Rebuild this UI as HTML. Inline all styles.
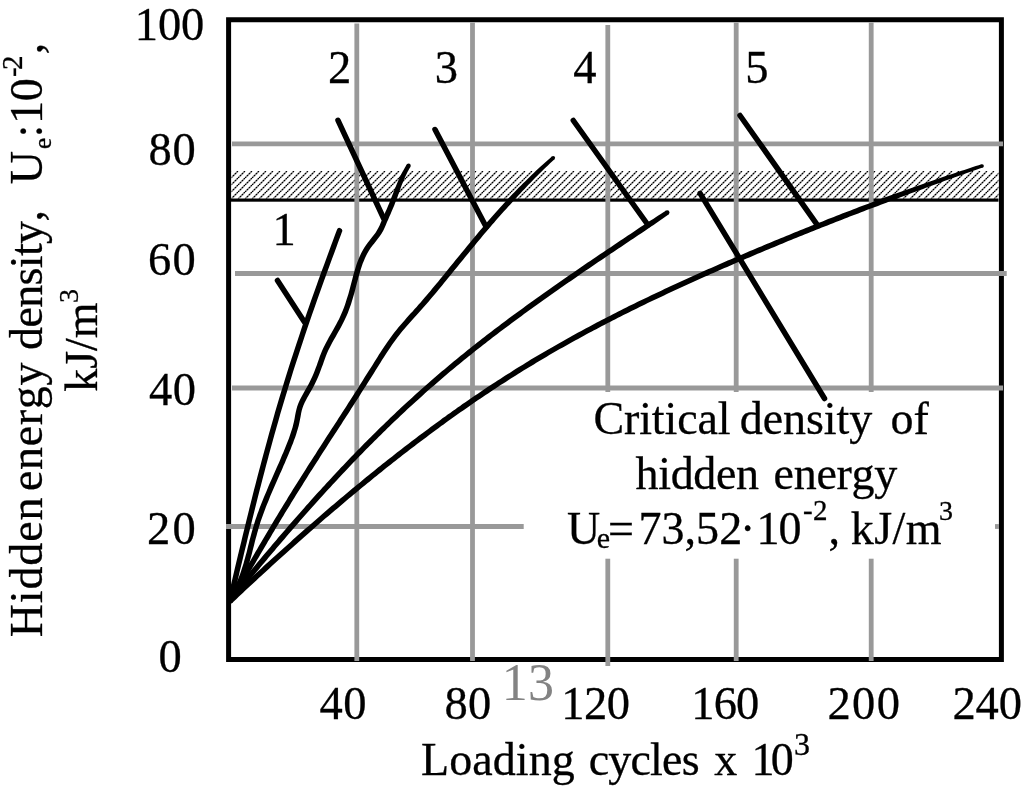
<!DOCTYPE html>
<html><head><meta charset="utf-8"><title>Hidden energy density vs loading cycles</title>
<style>
html,body{margin:0;padding:0;background:#fff;}
body{width:1024px;height:793px;overflow:hidden;}
svg{display:block;}
text{font-family:"Liberation Serif","Times New Roman",serif;fill:#000;stroke:#000;stroke-width:0.3px;font-kerning:none;white-space:pre;}
</style></head><body>
<svg width="1024" height="793" viewBox="0 0 1024 793">
<defs>
<pattern id="hatch" patternUnits="userSpaceOnUse" width="7" height="7" x="238" y="171"><path d="M-1 8 L8 -1 M-1 1 L1 -1 M6 8 L8 6" stroke="#000" stroke-opacity="0.5" stroke-width="1.1" fill="none"/><circle cx="0.5" cy="6.5" r="0.85" fill="#000"/><circle cx="2.5" cy="4.5" r="0.85" fill="#000"/><circle cx="4.5" cy="2.5" r="0.85" fill="#000"/><circle cx="6.5" cy="0.5" r="0.85" fill="#000"/></pattern>
</defs>
<rect x="0" y="0" width="1024" height="793" fill="#fff"/>
<rect x="228.6" y="19.75" width="772.8" height="639.75" fill="none" stroke="#000" stroke-width="5"/>
<rect x="231.5" y="171" width="767" height="27.6" fill="url(#hatch)"/>
<rect x="231" y="198.5" width="767.5" height="3.2" fill="#000"/>
<line x1="232.0" y1="143.8" x2="1003.0" y2="143.8" stroke="#999" stroke-width="4.8"/>
<line x1="235.0" y1="273.5" x2="1006.7" y2="273.5" stroke="#999" stroke-width="4.8"/>
<line x1="232.0" y1="388.0" x2="1003.0" y2="388.0" stroke="#999" stroke-width="4.8"/>
<line x1="226.0" y1="526.5" x2="523.7" y2="526.5" stroke="#999" stroke-width="4.8"/>
<line x1="995.0" y1="526.5" x2="999.0" y2="526.5" stroke="#999" stroke-width="4.8"/>
<line x1="356.8" y1="23.5" x2="356.8" y2="661.0" stroke="#999" stroke-width="4.8"/>
<line x1="472.5" y1="22.5" x2="472.5" y2="661.0" stroke="#999" stroke-width="4.8"/>
<line x1="607.8" y1="25.0" x2="607.8" y2="392.0" stroke="#999" stroke-width="4.8"/>
<line x1="607.8" y1="558.7" x2="607.8" y2="666.0" stroke="#999" stroke-width="4.8"/>
<line x1="736.2" y1="22.5" x2="736.2" y2="392.0" stroke="#999" stroke-width="4.8"/>
<line x1="736.2" y1="558.7" x2="736.2" y2="661.0" stroke="#999" stroke-width="4.8"/>
<line x1="871.2" y1="22.5" x2="871.2" y2="392.0" stroke="#999" stroke-width="4.8"/>
<line x1="871.2" y1="558.7" x2="871.2" y2="661.0" stroke="#999" stroke-width="4.8"/>
<path d="M230.2 600.0 C230.8 597.6 232.5 590.3 233.6 585.5 C234.8 580.7 235.9 575.8 237.0 571.0 C238.2 566.2 239.3 561.4 240.5 556.5 C241.6 551.7 242.8 546.9 244.0 542.1 C245.1 537.3 246.3 532.5 247.5 527.7 C248.6 522.9 249.8 518.1 251.0 513.3 C252.2 508.5 253.4 503.7 254.6 498.9 C255.8 494.1 257.0 489.3 258.3 484.5 C259.5 479.7 260.7 475.0 262.0 470.2 C263.3 465.4 264.5 460.6 265.8 455.9 C267.1 451.1 268.4 446.3 269.7 441.6 C271.0 436.8 272.3 432.1 273.7 427.3 C275.0 422.6 276.4 417.8 277.7 413.1 C279.1 408.3 280.5 403.6 281.9 398.9 C283.3 394.1 284.8 389.4 286.2 384.7 C287.7 380.0 289.1 375.2 290.6 370.5 C292.1 365.8 293.6 361.1 295.2 356.4 C296.7 351.7 298.2 347.0 299.8 342.3 C301.4 337.6 302.9 332.9 304.5 328.2 C306.1 323.6 307.7 318.9 309.3 314.2 C311.0 309.5 312.6 304.9 314.2 300.2 C315.9 295.5 317.5 290.9 319.2 286.2 C320.8 281.6 322.5 276.9 324.2 272.3 C325.9 267.7 327.6 263.0 329.3 258.4 C331.0 253.8 332.7 249.1 334.4 244.5 C336.1 239.9 338.6 233.0 339.5 230.7" fill="none" stroke="#000" stroke-width="5.5" stroke-linecap="round" stroke-linejoin="round"/>
<g fill="#000"><path d="M232.5 601.5 L234.2 598.9 L235.8 596.2 L237.3 593.5 L238.7 590.8 L240.1 588.0 L241.4 585.2 L242.6 582.4 L243.8 579.5 L244.9 576.6 L246.0 573.8 L246.9 570.8 L247.9 567.9 L248.8 565.0 L249.6 562.1 L250.4 559.1 L251.2 556.2 L252.0 553.2 L252.7 550.3 L253.5 547.3 L254.2 544.4 L254.9 541.5 L255.7 538.6 L256.5 535.7 L257.3 532.8 L258.1 529.9 L258.9 527.0 L259.8 524.2 L260.7 521.3 L261.7 518.5 L262.7 515.7 L263.7 512.9 L264.8 510.1 L265.8 507.3 L266.9 504.5 L268.1 501.7 L269.2 498.9 L270.3 496.1 L271.5 493.3 L272.7 490.6 L273.9 487.8 L275.1 485.0 L276.3 482.3 L277.5 479.5 L278.7 476.7 L279.9 474.0 L281.2 471.2 L282.4 468.4 L283.6 465.6 L284.8 462.9 L286.0 460.1 L287.2 457.3 L288.4 454.5 L289.5 451.7 L290.7 448.9 L291.8 446.1 L293.0 443.2 L294.0 440.3 L295.1 437.5 L296.1 434.6 L297.0 431.6 L297.9 428.6 L298.7 425.7 L299.4 422.6 L300.0 419.6 L300.6 416.6 L301.1 413.6 L301.7 410.8 L302.5 408.1 L303.4 405.4 L304.6 402.8 L305.9 400.2 L307.3 397.6 L308.8 395.0 L310.3 392.3 L311.8 389.7 L313.3 387.0 L314.7 384.3 L316.0 381.5 L317.3 378.7 L318.6 375.8 L319.7 373.0 L320.8 370.1 L321.8 367.2 L322.9 364.4 L323.9 361.5 L324.9 358.7 L325.9 355.9 L327.0 353.2 L328.2 350.5 L329.5 347.9 L330.9 345.2 L332.3 342.6 L333.7 340.0 L335.2 337.4 L336.7 334.8 L338.2 332.1 L339.7 329.5 L341.2 326.8 L342.6 324.1 L344.0 321.3 L345.3 318.5 L346.6 315.7 L347.8 312.9 L348.9 310.0 L350.0 307.1 L351.0 304.2 L351.9 301.2 L352.8 298.3 L353.6 295.4 L354.5 292.4 L355.3 289.5 L356.0 286.6 L356.8 283.6 L357.6 280.7 L358.3 277.8 L359.1 274.9 L360.0 272.0 L360.8 269.2 L361.7 266.4 L362.7 263.6 L363.8 260.9 L364.9 258.2 L366.2 255.6 L367.5 253.0 L369.0 250.5 L370.6 248.1 L372.3 245.7 L374.2 243.4 L376.1 241.0 L378.0 238.6 L379.9 236.1 L381.6 233.4 L383.2 230.7 L384.6 227.8 L385.8 225.0 L387.0 222.1 L388.2 219.4 L389.4 216.6 L390.6 213.9 L391.8 211.1 L393.0 208.3 L394.2 205.5 L395.3 202.6 L396.4 199.8 L397.5 196.9 L398.5 194.1 L399.5 191.2 L400.5 188.4 L401.6 185.6 L402.7 182.8 L403.8 180.1 L405.0 177.3 L406.2 174.7 L407.5 172.0 L408.9 169.4 L410.4 166.8 L406.8 164.6 L405.1 167.2 L403.6 169.9 L402.1 172.6 L400.7 175.3 L399.4 178.1 L398.1 180.9 L396.9 183.7 L395.8 186.5 L394.6 189.4 L393.5 192.2 L392.4 195.0 L391.3 197.8 L390.2 200.6 L389.1 203.4 L388.0 206.1 L386.8 208.9 L385.6 211.6 L384.3 214.4 L383.1 217.2 L381.9 220.0 L380.7 222.8 L379.6 225.5 L378.3 228.1 L376.9 230.6 L375.4 232.9 L373.6 235.2 L371.8 237.6 L369.9 239.9 L367.9 242.4 L366.1 244.9 L364.4 247.6 L362.8 250.3 L361.3 253.1 L359.9 255.9 L358.7 258.8 L357.5 261.7 L356.5 264.6 L355.6 267.6 L354.7 270.5 L353.8 273.4 L353.0 276.4 L352.3 279.3 L351.5 282.3 L350.7 285.2 L350.0 288.1 L349.2 291.0 L348.4 293.9 L347.5 296.7 L346.6 299.6 L345.7 302.4 L344.8 305.2 L343.8 308.0 L342.7 310.8 L341.5 313.5 L340.3 316.2 L339.1 318.9 L337.7 321.5 L336.3 324.2 L334.9 326.8 L333.4 329.4 L332.0 332.0 L330.4 334.7 L328.9 337.3 L327.5 340.0 L326.0 342.7 L324.6 345.4 L323.2 348.2 L322.0 351.0 L320.8 353.9 L319.7 356.8 L318.7 359.7 L317.7 362.5 L316.7 365.4 L315.6 368.2 L314.6 371.0 L313.5 373.7 L312.3 376.5 L311.1 379.1 L309.8 381.8 L308.4 384.4 L307.0 387.0 L305.5 389.6 L304.0 392.3 L302.5 394.9 L301.0 397.7 L299.6 400.5 L298.3 403.4 L297.2 406.4 L296.4 409.5 L295.7 412.5 L295.1 415.6 L294.6 418.5 L294.0 421.4 L293.3 424.3 L292.6 427.2 L291.7 430.0 L290.8 432.8 L289.9 435.6 L288.9 438.4 L287.8 441.2 L286.7 444.0 L285.6 446.8 L284.5 449.6 L283.3 452.4 L282.1 455.1 L280.9 457.9 L279.8 460.7 L278.6 463.4 L277.3 466.2 L276.1 469.0 L274.9 471.7 L273.7 474.5 L272.5 477.3 L271.3 480.1 L270.0 482.8 L268.8 485.6 L267.6 488.4 L266.5 491.2 L265.3 494.0 L264.1 496.8 L263.0 499.6 L261.8 502.4 L260.7 505.3 L259.6 508.1 L258.6 511.0 L257.5 513.8 L256.5 516.7 L255.5 519.6 L254.6 522.5 L253.7 525.4 L252.8 528.4 L252.0 531.3 L251.2 534.2 L250.4 537.2 L249.6 540.1 L248.9 543.1 L248.1 546.0 L247.4 548.9 L246.7 551.9 L245.9 554.8 L245.1 557.7 L244.3 560.6 L243.5 563.4 L242.6 566.3 L241.7 569.1 L240.8 571.9 L239.8 574.7 L238.7 577.5 L237.6 580.2 L236.4 583.0 L235.1 585.6 L233.8 588.3 L232.5 590.9 L231.0 593.5 L229.5 596.0 L227.9 598.5Z"/><circle cx="230.2" cy="600.0" r="2.75"/><circle cx="408.6" cy="165.7" r="2.15"/></g>
<g fill="#000"><path d="M232.5 601.4 L234.1 598.8 L235.7 596.3 L237.2 593.7 L238.8 591.1 L240.4 588.5 L241.9 585.9 L243.5 583.3 L245.0 580.7 L246.5 578.1 L248.1 575.5 L249.6 572.9 L251.1 570.3 L252.7 567.6 L254.2 565.0 L255.7 562.4 L257.2 559.8 L258.8 557.2 L260.3 554.6 L261.8 552.0 L263.3 549.4 L264.9 546.8 L266.4 544.2 L267.9 541.6 L269.5 539.0 L271.0 536.4 L272.5 533.8 L274.1 531.2 L275.6 528.6 L277.2 526.0 L278.7 523.4 L280.3 520.8 L281.8 518.3 L283.4 515.7 L284.9 513.1 L286.5 510.5 L288.1 507.9 L289.7 505.4 L291.2 502.8 L292.8 500.2 L294.4 497.7 L296.0 495.1 L297.6 492.5 L299.2 490.0 L300.8 487.4 L302.4 484.9 L304.0 482.3 L305.6 479.8 L307.2 477.2 L308.8 474.6 L310.4 472.1 L312.1 469.6 L313.7 467.0 L315.3 464.5 L316.9 461.9 L318.6 459.4 L320.2 456.8 L321.8 454.3 L323.4 451.8 L325.1 449.2 L326.7 446.7 L328.4 444.1 L330.0 441.6 L331.6 439.1 L333.3 436.5 L334.9 434.0 L336.6 431.5 L338.2 428.9 L339.8 426.4 L341.5 423.9 L343.1 421.3 L344.8 418.8 L346.4 416.2 L348.1 413.7 L349.7 411.2 L351.3 408.6 L353.0 406.1 L354.6 403.5 L356.2 401.0 L357.9 398.4 L359.5 395.9 L361.1 393.3 L362.7 390.8 L364.3 388.2 L366.0 385.7 L367.6 383.1 L369.2 380.6 L370.8 378.0 L372.4 375.5 L374.0 372.9 L375.6 370.3 L377.2 367.8 L378.8 365.2 L380.4 362.7 L382.0 360.1 L383.7 357.6 L385.3 355.1 L386.9 352.5 L388.6 350.0 L390.3 347.5 L391.9 345.1 L393.7 342.6 L395.4 340.2 L397.2 337.8 L399.0 335.5 L400.9 333.1 L402.7 330.8 L404.7 328.5 L406.6 326.3 L408.6 324.0 L410.6 321.8 L412.6 319.5 L414.6 317.3 L416.7 315.0 L418.7 312.8 L420.7 310.5 L422.7 308.3 L424.7 306.0 L426.7 303.7 L428.7 301.4 L430.7 299.1 L432.6 296.8 L434.6 294.5 L436.5 292.2 L438.5 289.8 L440.4 287.5 L442.3 285.2 L444.2 282.8 L446.1 280.5 L448.1 278.1 L450.0 275.8 L451.9 273.5 L453.8 271.1 L455.7 268.8 L457.6 266.4 L459.5 264.1 L461.4 261.7 L463.3 259.4 L465.2 257.0 L467.1 254.7 L469.0 252.4 L470.9 250.0 L472.9 247.7 L474.8 245.4 L476.7 243.0 L478.6 240.7 L480.6 238.4 L482.5 236.1 L484.4 233.8 L486.4 231.5 L488.3 229.2 L490.3 226.9 L492.3 224.6 L494.2 222.4 L496.2 220.1 L498.2 217.8 L500.2 215.6 L502.2 213.3 L504.2 211.1 L506.2 208.9 L508.3 206.6 L510.3 204.4 L512.3 202.2 L514.4 200.0 L516.4 197.7 L518.4 195.5 L520.5 193.3 L522.5 191.1 L524.6 188.9 L526.6 186.7 L528.7 184.5 L530.8 182.4 L532.9 180.2 L535.0 178.1 L537.1 175.9 L539.3 173.8 L541.4 171.7 L543.6 169.6 L545.7 167.5 L547.9 165.4 L550.1 163.3 L552.3 161.3 L554.5 159.2 L551.9 156.4 L549.7 158.4 L547.4 160.4 L545.1 162.4 L542.9 164.5 L540.6 166.5 L538.4 168.6 L536.2 170.6 L534.0 172.7 L531.8 174.8 L529.6 176.9 L527.5 179.0 L525.3 181.2 L523.1 183.3 L521.0 185.4 L518.8 187.6 L516.7 189.7 L514.6 191.9 L512.5 194.1 L510.4 196.3 L508.3 198.5 L506.2 200.7 L504.2 202.9 L502.2 205.2 L500.1 207.4 L498.1 209.7 L496.1 211.9 L494.1 214.2 L492.1 216.5 L490.1 218.8 L488.1 221.0 L486.1 223.3 L484.2 225.6 L482.2 227.9 L480.2 230.3 L478.3 232.6 L476.3 234.9 L474.4 237.2 L472.5 239.5 L470.5 241.9 L468.6 244.2 L466.7 246.5 L464.8 248.9 L462.9 251.2 L461.0 253.6 L459.0 255.9 L457.1 258.3 L455.2 260.6 L453.3 263.0 L451.4 265.3 L449.5 267.6 L447.6 270.0 L445.7 272.3 L443.8 274.7 L441.9 277.0 L440.0 279.3 L438.1 281.7 L436.1 284.0 L434.2 286.3 L432.3 288.6 L430.4 290.9 L428.4 293.2 L426.5 295.5 L424.5 297.8 L422.6 300.1 L420.6 302.4 L418.6 304.6 L416.6 306.9 L414.6 309.1 L412.6 311.4 L410.5 313.6 L408.5 315.8 L406.5 318.1 L404.5 320.4 L402.5 322.7 L400.5 325.0 L398.5 327.3 L396.6 329.7 L394.7 332.1 L392.8 334.5 L391.0 337.0 L389.2 339.4 L387.4 341.9 L385.7 344.5 L384.0 347.0 L382.3 349.5 L380.7 352.1 L379.0 354.6 L377.4 357.2 L375.8 359.7 L374.2 362.3 L372.6 364.9 L371.0 367.4 L369.3 370.0 L367.7 372.5 L366.1 375.1 L364.5 377.6 L362.9 380.2 L361.3 382.8 L359.7 385.3 L358.1 387.9 L356.5 390.4 L354.8 392.9 L353.2 395.5 L351.6 398.0 L350.0 400.6 L348.3 403.1 L346.7 405.7 L345.1 408.2 L343.4 410.7 L341.8 413.3 L340.2 415.8 L338.5 418.3 L336.9 420.9 L335.2 423.4 L333.6 425.9 L331.9 428.5 L330.3 431.0 L328.7 433.5 L327.0 436.1 L325.4 438.6 L323.7 441.2 L322.1 443.7 L320.5 446.2 L318.8 448.8 L317.2 451.3 L315.6 453.9 L313.9 456.4 L312.3 459.0 L310.7 461.5 L309.0 464.1 L307.4 466.6 L305.8 469.2 L304.2 471.7 L302.6 474.3 L301.0 476.8 L299.3 479.4 L297.7 481.9 L296.1 484.5 L294.5 487.1 L292.9 489.6 L291.3 492.2 L289.7 494.8 L288.1 497.3 L286.6 499.9 L285.0 502.5 L283.4 505.1 L281.8 507.7 L280.2 510.2 L278.7 512.8 L277.1 515.4 L275.5 518.0 L274.0 520.6 L272.4 523.2 L270.9 525.8 L269.3 528.4 L267.8 531.0 L266.3 533.6 L264.7 536.2 L263.2 538.8 L261.6 541.4 L260.1 544.0 L258.6 546.6 L257.1 549.2 L255.5 551.8 L254.0 554.4 L252.5 557.0 L251.0 559.7 L249.4 562.3 L247.9 564.9 L246.4 567.5 L244.9 570.1 L243.3 572.7 L241.8 575.3 L240.3 577.9 L238.7 580.5 L237.2 583.1 L235.6 585.7 L234.1 588.2 L232.5 590.8 L231.0 593.4 L229.4 596.0 L227.9 598.6Z"/><circle cx="230.2" cy="600.0" r="2.75"/><circle cx="553.2" cy="157.8" r="1.90"/></g>
<g fill="#000"><path d="M232.3 601.7 L234.2 599.4 L236.1 597.0 L238.1 594.7 L240.0 592.3 L241.9 590.0 L243.8 587.6 L245.7 585.3 L247.6 583.0 L249.5 580.6 L251.5 578.3 L253.4 575.9 L255.3 573.6 L257.2 571.3 L259.2 569.0 L261.1 566.6 L263.0 564.3 L265.0 562.0 L266.9 559.7 L268.8 557.3 L270.8 555.0 L272.7 552.7 L274.7 550.4 L276.6 548.1 L278.6 545.8 L280.6 543.5 L282.5 541.2 L284.5 538.9 L286.5 536.6 L288.4 534.3 L290.4 532.0 L292.4 529.7 L294.4 527.4 L296.3 525.2 L298.3 522.9 L300.3 520.6 L302.3 518.3 L304.3 516.1 L306.3 513.8 L308.3 511.5 L310.3 509.3 L312.3 507.0 L314.4 504.8 L316.4 502.5 L318.4 500.3 L320.4 498.0 L322.5 495.8 L324.5 493.6 L326.5 491.3 L328.6 489.1 L330.6 486.9 L332.7 484.6 L334.7 482.4 L336.8 480.2 L338.8 478.0 L340.9 475.8 L343.0 473.6 L345.0 471.4 L347.1 469.2 L349.2 467.0 L351.3 464.8 L353.4 462.6 L355.5 460.5 L357.6 458.3 L359.7 456.1 L361.8 454.0 L363.9 451.8 L366.0 449.6 L368.1 447.5 L370.3 445.3 L372.4 443.2 L374.5 441.1 L376.7 438.9 L378.8 436.8 L381.0 434.7 L383.1 432.6 L385.3 430.4 L387.4 428.3 L389.6 426.2 L391.8 424.1 L393.9 422.0 L396.1 420.0 L398.3 417.9 L400.5 415.8 L402.7 413.7 L404.9 411.7 L407.1 409.6 L409.3 407.6 L411.6 405.5 L413.8 403.5 L416.0 401.4 L418.3 399.4 L420.5 397.4 L422.7 395.4 L425.0 393.3 L427.2 391.3 L429.5 389.3 L431.8 387.3 L434.1 385.4 L436.3 383.4 L438.6 381.4 L440.9 379.4 L443.2 377.5 L445.5 375.5 L447.8 373.6 L450.1 371.6 L452.4 369.7 L454.8 367.8 L457.1 365.8 L459.4 363.9 L461.8 362.0 L464.1 360.1 L466.4 358.2 L468.8 356.3 L471.2 354.4 L473.5 352.5 L475.9 350.6 L478.3 348.8 L480.6 346.9 L483.0 345.0 L485.4 343.2 L487.8 341.3 L490.2 339.5 L492.6 337.6 L495.0 335.8 L497.4 334.0 L499.8 332.1 L502.2 330.3 L504.6 328.5 L507.0 326.7 L509.4 324.9 L511.9 323.1 L514.3 321.3 L516.7 319.5 L519.1 317.7 L521.6 315.9 L524.0 314.1 L526.5 312.3 L528.9 310.5 L531.4 308.8 L533.8 307.0 L536.3 305.2 L538.7 303.5 L541.2 301.7 L543.6 300.0 L546.1 298.2 L548.6 296.5 L551.0 294.7 L553.5 293.0 L556.0 291.2 L558.5 289.5 L560.9 287.8 L563.4 286.0 L565.9 284.3 L568.4 282.6 L570.9 280.9 L573.4 279.2 L575.9 277.4 L578.3 275.7 L580.8 274.0 L583.3 272.3 L585.8 270.6 L588.3 268.9 L590.8 267.2 L593.3 265.5 L595.8 263.8 L598.3 262.1 L600.8 260.4 L603.4 258.7 L605.9 257.0 L608.4 255.3 L610.9 253.6 L613.4 251.9 L615.9 250.2 L618.4 248.5 L620.9 246.9 L623.4 245.2 L625.9 243.5 L628.5 241.8 L631.0 240.1 L633.5 238.4 L636.0 236.8 L638.5 235.1 L641.0 233.4 L643.6 231.7 L646.1 230.0 L648.6 228.3 L651.1 226.6 L653.6 224.9 L656.0 223.2 L658.5 221.4 L661.0 219.7 L663.5 218.0 L666.0 216.2 L668.5 214.5 L665.9 210.7 L663.4 212.3 L660.8 214.0 L658.3 215.6 L655.7 217.2 L653.2 218.9 L650.6 220.5 L648.1 222.1 L645.5 223.8 L643.0 225.5 L640.5 227.1 L638.0 228.8 L635.5 230.5 L633.0 232.2 L630.4 233.9 L627.9 235.5 L625.4 237.2 L622.9 238.9 L620.4 240.6 L617.9 242.3 L615.3 244.0 L612.8 245.7 L610.3 247.4 L607.8 249.0 L605.3 250.7 L602.8 252.4 L600.3 254.1 L597.8 255.8 L595.3 257.5 L592.7 259.2 L590.2 260.9 L587.7 262.6 L585.2 264.3 L582.7 266.0 L580.2 267.8 L577.7 269.5 L575.2 271.2 L572.7 272.9 L570.2 274.6 L567.8 276.3 L565.3 278.1 L562.8 279.8 L560.3 281.5 L557.8 283.3 L555.3 285.0 L552.8 286.7 L550.4 288.5 L547.9 290.2 L545.4 292.0 L542.9 293.7 L540.5 295.5 L538.0 297.2 L535.5 299.0 L533.1 300.8 L530.6 302.5 L528.1 304.3 L525.7 306.1 L523.2 307.9 L520.8 309.7 L518.3 311.4 L515.9 313.2 L513.4 315.0 L511.0 316.8 L508.6 318.6 L506.1 320.5 L503.7 322.3 L501.3 324.1 L498.9 325.9 L496.4 327.8 L494.0 329.6 L491.6 331.4 L489.2 333.3 L486.8 335.1 L484.4 337.0 L482.0 338.8 L479.6 340.7 L477.2 342.6 L474.8 344.4 L472.5 346.3 L470.1 348.2 L467.7 350.1 L465.4 352.0 L463.0 353.9 L460.6 355.8 L458.3 357.7 L455.9 359.7 L453.6 361.6 L451.3 363.5 L448.9 365.5 L446.6 367.4 L444.3 369.4 L441.9 371.3 L439.6 373.3 L437.3 375.3 L435.0 377.2 L432.7 379.2 L430.4 381.2 L428.2 383.2 L425.9 385.2 L423.6 387.2 L421.3 389.2 L419.1 391.3 L416.8 393.3 L414.6 395.3 L412.3 397.4 L410.1 399.4 L407.8 401.5 L405.6 403.5 L403.4 405.6 L401.2 407.6 L398.9 409.7 L396.7 411.8 L394.5 413.9 L392.3 416.0 L390.1 418.1 L388.0 420.2 L385.8 422.3 L383.6 424.4 L381.4 426.5 L379.3 428.6 L377.1 430.8 L374.9 432.9 L372.8 435.0 L370.6 437.2 L368.5 439.3 L366.3 441.5 L364.2 443.6 L362.1 445.8 L360.0 447.9 L357.8 450.1 L355.7 452.3 L353.6 454.5 L351.5 456.6 L349.4 458.8 L347.3 461.0 L345.2 463.2 L343.1 465.4 L341.0 467.6 L339.0 469.8 L336.9 472.0 L334.8 474.2 L332.7 476.5 L330.7 478.7 L328.6 480.9 L326.6 483.1 L324.5 485.4 L322.5 487.6 L320.4 489.9 L318.4 492.1 L316.3 494.3 L314.3 496.6 L312.3 498.8 L310.3 501.1 L308.2 503.4 L306.2 505.6 L304.2 507.9 L302.2 510.2 L300.2 512.4 L298.2 514.7 L296.2 517.0 L294.2 519.3 L292.2 521.6 L290.2 523.8 L288.2 526.1 L286.2 528.4 L284.3 530.7 L282.3 533.0 L280.3 535.3 L278.3 537.6 L276.4 539.9 L274.4 542.2 L272.4 544.5 L270.5 546.9 L268.5 549.2 L266.6 551.5 L264.6 553.8 L262.7 556.1 L260.7 558.5 L258.8 560.8 L256.9 563.1 L254.9 565.4 L253.0 567.8 L251.1 570.1 L249.1 572.4 L247.2 574.8 L245.3 577.1 L243.4 579.5 L241.4 581.8 L239.5 584.2 L237.6 586.5 L235.7 588.9 L233.8 591.2 L231.9 593.6 L230.0 595.9 L228.1 598.3Z"/><circle cx="230.2" cy="600.0" r="2.75"/><circle cx="667.2" cy="212.6" r="2.30"/></g>
<g fill="#000"><path d="M232.1 603.0 L234.3 600.9 L236.5 598.9 L238.7 596.8 L240.9 594.8 L243.1 592.7 L245.3 590.6 L247.5 588.6 L249.7 586.5 L251.9 584.5 L254.1 582.4 L256.3 580.4 L258.5 578.3 L260.8 576.3 L263.0 574.3 L265.2 572.2 L267.4 570.2 L269.6 568.2 L271.9 566.1 L274.1 564.1 L276.3 562.1 L278.5 560.1 L280.8 558.0 L283.0 556.0 L285.3 554.0 L287.5 552.0 L289.7 550.0 L292.0 548.0 L294.2 546.0 L296.5 544.0 L298.7 541.9 L301.0 540.0 L303.2 538.0 L305.5 536.0 L307.8 534.0 L310.0 532.0 L312.3 530.0 L314.6 528.0 L316.8 526.0 L319.1 524.1 L321.4 522.1 L323.6 520.1 L325.9 518.1 L328.2 516.2 L330.5 514.2 L332.8 512.3 L335.1 510.3 L337.4 508.4 L339.7 506.4 L342.0 504.5 L344.3 502.5 L346.6 500.6 L348.9 498.6 L351.2 496.7 L353.5 494.8 L355.8 492.9 L358.1 490.9 L360.4 489.0 L362.8 487.1 L365.1 485.2 L367.4 483.3 L369.8 481.4 L372.1 479.5 L374.4 477.6 L376.8 475.7 L379.1 473.8 L381.5 471.9 L383.8 470.0 L386.2 468.1 L388.5 466.3 L390.9 464.4 L393.2 462.5 L395.6 460.7 L398.0 458.8 L400.4 457.0 L402.7 455.1 L405.1 453.3 L407.5 451.4 L409.9 449.6 L412.3 447.8 L414.7 445.9 L417.1 444.1 L419.5 442.3 L421.9 440.5 L424.3 438.7 L426.7 436.9 L429.1 435.1 L431.5 433.3 L433.9 431.5 L436.3 429.7 L438.8 427.9 L441.2 426.1 L443.6 424.4 L446.1 422.6 L448.5 420.8 L451.0 419.1 L453.4 417.3 L455.9 415.6 L458.3 413.8 L460.8 412.1 L463.2 410.4 L465.7 408.7 L468.2 406.9 L470.6 405.2 L473.1 403.5 L475.6 401.8 L478.1 400.1 L480.6 398.4 L483.1 396.7 L485.6 395.1 L488.1 393.4 L490.6 391.7 L493.1 390.1 L495.6 388.4 L498.1 386.8 L500.6 385.1 L503.2 383.5 L505.7 381.9 L508.2 380.2 L510.8 378.6 L513.3 377.0 L515.8 375.4 L518.4 373.8 L520.9 372.2 L523.5 370.6 L526.1 369.0 L528.6 367.5 L531.2 365.9 L533.8 364.4 L536.3 362.8 L538.9 361.3 L541.5 359.7 L544.1 358.2 L546.7 356.7 L549.3 355.1 L551.9 353.6 L554.5 352.1 L557.1 350.6 L559.7 349.1 L562.3 347.7 L565.0 346.2 L567.6 344.7 L570.2 343.2 L572.8 341.8 L575.5 340.3 L578.1 338.9 L580.7 337.4 L583.4 336.0 L586.0 334.6 L588.7 333.1 L591.3 331.7 L594.0 330.3 L596.7 328.9 L599.3 327.5 L602.0 326.1 L604.7 324.7 L607.3 323.3 L610.0 321.9 L612.7 320.6 L615.4 319.2 L618.0 317.8 L620.7 316.5 L623.4 315.1 L626.1 313.8 L628.8 312.4 L631.5 311.1 L634.2 309.7 L636.9 308.4 L639.6 307.1 L642.3 305.8 L645.0 304.4 L647.7 303.1 L650.4 301.8 L653.1 300.5 L655.9 299.2 L658.6 297.9 L661.3 296.7 L664.0 295.4 L666.8 294.1 L669.5 292.8 L672.2 291.5 L674.9 290.3 L677.7 289.0 L680.4 287.7 L683.1 286.5 L685.9 285.2 L688.6 284.0 L691.4 282.8 L694.1 281.5 L696.9 280.3 L699.6 279.0 L702.4 277.8 L705.1 276.6 L707.9 275.4 L710.6 274.1 L713.4 272.9 L716.1 271.7 L718.9 270.5 L721.6 269.3 L724.4 268.1 L727.2 266.9 L729.9 265.7 L732.7 264.5 L735.5 263.3 L738.2 262.1 L741.0 260.9 L743.8 259.7 L746.5 258.5 L749.3 257.4 L752.1 256.2 L754.9 255.0 L757.6 253.8 L760.4 252.7 L763.2 251.5 L766.0 250.3 L768.7 249.2 L771.5 248.0 L774.3 246.9 L777.1 245.7 L779.9 244.6 L782.7 243.4 L785.4 242.3 L788.2 241.1 L791.0 240.0 L793.8 238.8 L796.6 237.7 L799.4 236.6 L802.2 235.4 L805.0 234.3 L807.8 233.2 L810.6 232.1 L813.4 230.9 L816.2 229.8 L819.0 228.7 L821.8 227.6 L824.6 226.5 L827.4 225.4 L830.2 224.3 L833.0 223.2 L835.8 222.1 L838.6 221.0 L841.4 219.9 L844.2 218.8 L847.0 217.7 L849.8 216.6 L852.6 215.5 L855.4 214.4 L858.2 213.4 L861.1 212.3 L863.9 211.2 L866.7 210.1 L869.5 209.1 L872.3 208.0 L875.1 206.9 L878.0 205.9 L880.8 204.8 L883.6 203.8 L886.4 202.7 L889.2 201.6 L892.0 200.5 L894.9 199.5 L897.7 198.4 L900.5 197.3 L903.3 196.3 L906.1 195.2 L909.0 194.1 L911.8 193.1 L914.6 192.0 L917.4 191.0 L920.3 189.9 L923.1 188.9 L925.9 187.8 L928.7 186.8 L931.6 185.8 L934.4 184.7 L937.2 183.7 L940.1 182.7 L942.9 181.6 L945.7 180.6 L948.6 179.6 L951.4 178.6 L954.2 177.6 L957.1 176.6 L959.9 175.5 L962.8 174.5 L965.6 173.5 L968.4 172.5 L971.3 171.5 L974.1 170.5 L977.0 169.5 L979.8 168.5 L982.7 167.6 L981.5 164.2 L978.7 165.2 L975.8 166.1 L972.9 167.1 L970.1 168.0 L967.2 168.9 L964.3 169.9 L961.5 170.8 L958.6 171.8 L955.8 172.8 L952.9 173.7 L950.0 174.7 L947.2 175.6 L944.3 176.6 L941.5 177.6 L938.6 178.6 L935.8 179.5 L932.9 180.5 L930.0 181.5 L927.2 182.5 L924.3 183.5 L921.5 184.5 L918.6 185.5 L915.8 186.4 L912.9 187.4 L910.1 188.4 L907.3 189.4 L904.4 190.5 L901.6 191.5 L898.7 192.5 L895.9 193.5 L893.0 194.5 L890.2 195.5 L887.4 196.5 L884.5 197.6 L881.7 198.6 L878.9 199.7 L876.0 200.7 L873.2 201.8 L870.4 202.9 L867.6 203.9 L864.7 205.0 L861.9 206.1 L859.1 207.1 L856.3 208.2 L853.5 209.3 L850.6 210.4 L847.8 211.5 L845.0 212.6 L842.2 213.6 L839.4 214.7 L836.6 215.8 L833.8 216.9 L831.0 218.0 L828.1 219.1 L825.3 220.2 L822.5 221.4 L819.7 222.5 L816.9 223.6 L814.1 224.7 L811.3 225.8 L808.5 226.9 L805.7 228.1 L802.9 229.2 L800.1 230.3 L797.3 231.5 L794.5 232.6 L791.7 233.7 L788.9 234.9 L786.1 236.0 L783.4 237.2 L780.6 238.3 L777.8 239.5 L775.0 240.6 L772.2 241.8 L769.4 242.9 L766.6 244.1 L763.8 245.3 L761.1 246.4 L758.3 247.6 L755.5 248.8 L752.7 249.9 L749.9 251.1 L747.2 252.3 L744.4 253.5 L741.6 254.7 L738.8 255.9 L736.1 257.1 L733.3 258.2 L730.5 259.4 L727.7 260.6 L725.0 261.8 L722.2 263.0 L719.4 264.2 L716.7 265.5 L713.9 266.7 L711.1 267.9 L708.4 269.1 L705.6 270.3 L702.9 271.6 L700.1 272.8 L697.4 274.0 L694.6 275.3 L691.9 276.5 L689.1 277.7 L686.4 279.0 L683.6 280.2 L680.9 281.5 L678.1 282.8 L675.4 284.0 L672.6 285.3 L669.9 286.6 L667.2 287.8 L664.4 289.1 L661.7 290.4 L659.0 291.7 L656.2 293.0 L653.5 294.3 L650.8 295.6 L648.0 296.9 L645.3 298.2 L642.6 299.5 L639.9 300.8 L637.2 302.1 L634.5 303.5 L631.8 304.8 L629.0 306.1 L626.3 307.5 L623.6 308.8 L620.9 310.2 L618.2 311.6 L615.5 312.9 L612.9 314.3 L610.2 315.7 L607.5 317.0 L604.8 318.4 L602.1 319.8 L599.4 321.2 L596.8 322.6 L594.1 324.0 L591.4 325.4 L588.7 326.9 L586.1 328.3 L583.4 329.7 L580.8 331.2 L578.1 332.6 L575.5 334.0 L572.8 335.5 L570.2 337.0 L567.5 338.4 L564.9 339.9 L562.3 341.4 L559.6 342.9 L557.0 344.4 L554.4 345.9 L551.8 347.4 L549.1 348.9 L546.5 350.4 L543.9 351.9 L541.3 353.5 L538.7 355.0 L536.1 356.5 L533.5 358.1 L530.9 359.6 L528.3 361.2 L525.8 362.8 L523.2 364.4 L520.6 365.9 L518.0 367.5 L515.5 369.1 L512.9 370.7 L510.4 372.4 L507.8 374.0 L505.3 375.6 L502.7 377.2 L500.2 378.9 L497.6 380.5 L495.1 382.2 L492.6 383.8 L490.0 385.5 L487.5 387.1 L485.0 388.8 L482.5 390.5 L480.0 392.2 L477.5 393.9 L475.0 395.6 L472.5 397.3 L470.0 399.0 L467.5 400.7 L465.0 402.4 L462.5 404.1 L460.1 405.9 L457.6 407.6 L455.1 409.4 L452.7 411.1 L450.2 412.9 L447.7 414.6 L445.3 416.4 L442.8 418.1 L440.4 419.9 L438.0 421.7 L435.5 423.5 L433.1 425.3 L430.6 427.1 L428.2 428.9 L425.8 430.7 L423.4 432.5 L421.0 434.3 L418.5 436.1 L416.1 437.9 L413.7 439.7 L411.3 441.6 L408.9 443.4 L406.5 445.2 L404.1 447.1 L401.7 448.9 L399.4 450.8 L397.0 452.6 L394.6 454.5 L392.2 456.4 L389.8 458.2 L387.5 460.1 L385.1 462.0 L382.7 463.8 L380.4 465.7 L378.0 467.6 L375.7 469.5 L373.3 471.4 L371.0 473.3 L368.6 475.2 L366.3 477.1 L363.9 479.0 L361.6 480.9 L359.3 482.9 L356.9 484.8 L354.6 486.7 L352.3 488.6 L350.0 490.6 L347.7 492.5 L345.3 494.4 L343.0 496.4 L340.7 498.3 L338.4 500.3 L336.1 502.2 L333.8 504.2 L331.5 506.1 L329.2 508.1 L326.9 510.0 L324.6 512.0 L322.3 514.0 L320.1 516.0 L317.8 517.9 L315.5 519.9 L313.2 521.9 L310.9 523.9 L308.7 525.9 L306.4 527.8 L304.1 529.8 L301.9 531.8 L299.6 533.8 L297.3 535.8 L295.1 537.8 L292.8 539.8 L290.6 541.9 L288.3 543.9 L286.1 545.9 L283.8 547.9 L281.6 549.9 L279.3 551.9 L277.1 554.0 L274.9 556.0 L272.6 558.0 L270.4 560.0 L268.2 562.1 L265.9 564.1 L263.7 566.1 L261.5 568.2 L259.3 570.2 L257.0 572.3 L254.8 574.3 L252.6 576.4 L250.4 578.4 L248.2 580.5 L246.0 582.5 L243.7 584.6 L241.5 586.6 L239.3 588.7 L237.1 590.7 L234.9 592.8 L232.7 594.9 L230.5 596.9 L228.3 599.0Z"/><circle cx="230.2" cy="601.0" r="2.75"/><circle cx="982.1" cy="165.9" r="1.75"/></g>
<line x1="277.5" y1="280.5" x2="304.6" y2="322.3" stroke="#000" stroke-width="5.5" stroke-linecap="round"/>
<line x1="338.0" y1="120.3" x2="383.7" y2="218.5" stroke="#000" stroke-width="5.5" stroke-linecap="round"/>
<line x1="435.0" y1="129.5" x2="486.2" y2="227.0" stroke="#000" stroke-width="5.5" stroke-linecap="round"/>
<line x1="573.3" y1="120.5" x2="648.0" y2="225.0" stroke="#000" stroke-width="5.5" stroke-linecap="round"/>
<line x1="740.0" y1="115.5" x2="816.9" y2="224.3" stroke="#000" stroke-width="5.5" stroke-linecap="round"/>
<line x1="700.1" y1="193.4" x2="824.5" y2="398.5" stroke="#000" stroke-width="5.5" stroke-linecap="round"/>
<text x="134.8" y="39.8" font-size="46.5" letter-spacing="-0.10">100</text>
<text x="148.6" y="164.8" font-size="46.5" letter-spacing="0.74">80</text>
<text x="147.9" y="275.3" font-size="46.5" letter-spacing="1.47">60</text>
<text x="149.0" y="404.8" font-size="46.5" letter-spacing="0.38">40</text>
<text x="147.1" y="543.8" font-size="46.5" letter-spacing="2.26">20</text>
<text x="158.6" y="671.8" font-size="46.5">0</text>
<text x="319.5" y="718.5" font-size="46.5" letter-spacing="0.38">40</text>
<text x="444.6" y="718.5" font-size="46.5" letter-spacing="0.24">80</text>
<text x="561.3" y="718.5" font-size="46.5" letter-spacing="-0.47">120</text>
<text x="691.3" y="718.5" font-size="46.5" letter-spacing="-0.85">160</text>
<text x="827.4" y="718.5" font-size="46.5" letter-spacing="1.38">200</text>
<text x="952.4" y="718.5" font-size="46.5" letter-spacing="-0.12">240</text>
<text x="272.5" y="245.0" font-size="46.5">1</text>
<text x="328.0" y="82.5" font-size="46.5">2</text>
<text x="434.7" y="82.5" font-size="46.5">3</text>
<text x="573.3" y="82.5" font-size="46.5">4</text>
<text x="745.2" y="82.5" font-size="46.5">5</text>
<text x="501.8" y="700.0" font-size="52" letter-spacing="0.30" style="fill:#838383;stroke:none">13</text>
<text x="421.1" y="774.5" font-size="46" letter-spacing="0.05">Loading</text>
<text x="588.8" y="774.5" font-size="46" letter-spacing="-0.84">cycles</text>
<text x="714.3" y="774.5" font-size="46">x</text>
<text x="751.5" y="774.5" font-size="46" letter-spacing="-3.71">10</text>
<text x="793.9" y="755.0" font-size="32">3</text>
<text x="593.5" y="433.5" font-size="46" letter-spacing="-0.14">Critical</text>
<text x="739.7" y="433.5" font-size="46" letter-spacing="-0.06">density</text>
<text x="890.6" y="433.5" font-size="46">of</text>
<text x="635.5" y="488.7" font-size="46" letter-spacing="-0.32">hidden</text>
<text x="773.6" y="488.7" font-size="46" letter-spacing="-0.30">energy</text>
<text x="566.9" y="543.7" font-size="46">U</text>
<text x="596.7" y="547.7" font-size="30">e</text>
<text x="608.1" y="543.7" font-size="46">=</text>
<text x="638.4" y="543.7" font-size="46" letter-spacing="0.07">73,52</text>
<text x="740.0" y="543.7" font-size="46">·</text>
<text x="756.4" y="543.7" font-size="46" letter-spacing="-1.01">10</text>
<text x="803.1" y="520.0" font-size="29">-</text>
<text x="812.9" y="520.0" font-size="29">2</text>
<text x="828.6" y="543.7" font-size="46">,</text>
<text x="850.8" y="543.7" font-size="46" letter-spacing="0.44">kJ/m</text>
<text x="939.1" y="520.0" font-size="28">3</text>
<g transform="translate(42,700) rotate(-90)">
<text x="62.8" y="0.0" font-size="46" letter-spacing="0.84">Hidden</text>
<text x="208.9" y="0.0" font-size="46" letter-spacing="0.70">energy</text>
<text x="350.1" y="0.0" font-size="46" letter-spacing="-0.65">density,</text>
<text x="515.8" y="0.0" font-size="46">U</text>
<text x="551.1" y="8.5" font-size="25">e</text>
<text x="562.5" y="0.0" font-size="46">:</text>
<text x="576.0" y="0.0" font-size="46" letter-spacing="-0.31">10</text>
<text x="622.9" y="-20.0" font-size="29">-</text>
<text x="630.1" y="-20.0" font-size="29">2</text>
<text x="645.7" y="0.0" font-size="46">,</text>
</g>
<g transform="translate(97.3,700) rotate(-90)">
<text x="308.3" y="0.0" font-size="46" letter-spacing="-0.06">kJ/m</text>
<text x="397.1" y="-19.0" font-size="28">3</text>
</g>
</svg>
</body></html>
